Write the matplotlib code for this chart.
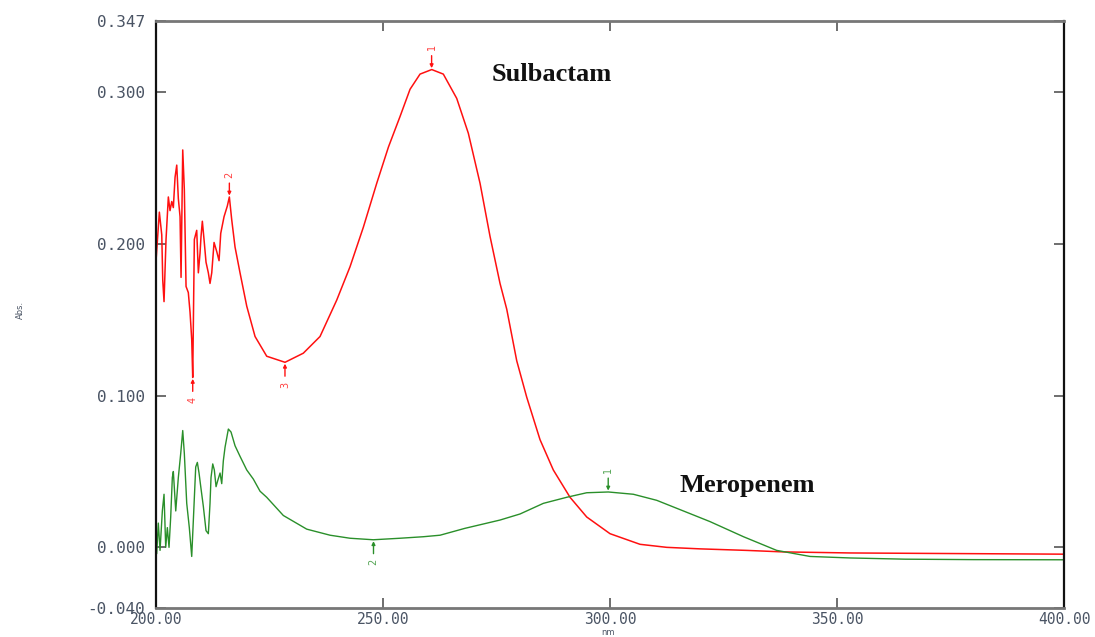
import matplotlib.pyplot as plt

# Sulbactam spectrum (red)
sul_nm = [200.0, 200.73, 201.26, 201.48, 201.76, 202.20, 202.71, 203.08, 203.46, 203.81,
          204.19, 204.56, 204.91, 205.29, 205.51, 205.88, 206.23, 206.61, 207.11, 207.49,
          207.86, 208.08, 208.44, 208.96, 209.32, 209.69, 209.91, 210.20, 210.57, 211.01,
          211.52, 211.89, 212.27, 212.78, 213.37, 213.88, 214.25, 214.98, 215.70, 216.15,
          216.67, 217.40, 218.50, 219.98, 221.81, 224.38, 228.41, 232.44, 236.12, 239.80,
          242.73, 245.66, 248.61, 251.2, 253.74, 255.95, 258.15, 260.73, 263.28, 266.23,
          268.79, 271.37, 273.57, 275.77, 277.25, 279.45, 281.65, 284.58, 287.51, 291.19,
          294.87, 300.0, 306.61, 312.49, 319.8, 330.0, 338.1, 352.9, 370.0, 400.0]
sul_abs = [0.189, 0.221, 0.206, 0.176, 0.162, 0.203, 0.231, 0.222, 0.228, 0.224,
           0.244, 0.252, 0.230, 0.218, 0.178, 0.262, 0.236, 0.172, 0.168, 0.155,
           0.137, 0.112, 0.203, 0.209, 0.181, 0.194, 0.205, 0.215, 0.203, 0.188,
           0.181, 0.174, 0.181, 0.201, 0.195, 0.189, 0.207, 0.218, 0.225, 0.231,
           0.216, 0.198, 0.181, 0.159, 0.139, 0.126, 0.122, 0.128, 0.139, 0.163,
           0.185, 0.211, 0.240, 0.264, 0.284, 0.302, 0.312, 0.315, 0.312, 0.296,
           0.273, 0.240, 0.205, 0.174, 0.157, 0.123, 0.099, 0.071, 0.051, 0.033,
           0.020, 0.009, 0.002, 0.000, -0.001, -0.002, -0.003, -0.0037, -0.004, -0.0045]

# Meropenem spectrum (green)
mero_nm = [200.15, 200.5, 200.88, 201.39, 201.76, 202.13, 202.49, 202.86, 203.23, 203.59,
           203.81, 204.34, 204.91, 205.44, 205.88, 206.23, 206.76, 207.33, 207.86, 208.22,
           208.74, 209.10, 209.47, 209.85, 210.42, 211.01, 211.52, 211.89, 212.11, 212.49,
           212.84, 213.22, 213.59, 214.10, 214.47, 214.82, 215.20, 215.93, 216.52, 217.40,
           218.50, 219.98, 221.43, 222.91, 224.38, 228.04, 233.19, 238.33, 242.73, 247.86,
           253.74, 258.88, 262.56, 268.0, 275.77, 280.18, 285.31, 290.46, 294.87, 299.63,
           305.13, 310.29, 316.15, 322.0, 329.4, 336.7, 344.05, 352.9, 365.0, 380.0, 400.0]
mero_abs = [-0.004, 0.016, -0.002, 0.024, 0.035, 0.000, 0.013, 0.000, 0.020, 0.046,
            0.050, 0.024, 0.046, 0.062, 0.077, 0.062, 0.029, 0.013, -0.006, 0.018,
            0.053, 0.056, 0.049, 0.040, 0.027, 0.011, 0.009, 0.029, 0.046, 0.055,
            0.051, 0.040, 0.044, 0.049, 0.042, 0.057, 0.066, 0.078, 0.076, 0.067,
            0.060, 0.051, 0.045, 0.037, 0.033, 0.021, 0.012, 0.008, 0.006, 0.005,
            0.006, 0.007, 0.008, 0.0125, 0.018, 0.022, 0.029, 0.033, 0.036, 0.0365,
            0.035, 0.031, 0.024, 0.017, 0.007, -0.002, -0.006, -0.007, -0.0078, -0.0081, -0.0082]

# peak picks: (nm, abs, label, side)
sul_peaks = [(260.7, 0.315, "1", "top"), (216.15, 0.231, "2", "top"),
             (228.4, 0.122, "3", "bottom"), (208.08, 0.112, "4", "bottom")]
mero_peaks = [(299.6, 0.0365, "1", "top"), (247.9, 0.005, "2", "bottom")]

x_ticks = [200, 250, 300, 350, 400]
y_ticks = [-0.040, 0.0, 0.1, 0.2, 0.3, 0.347]

RED = "#ff1010"
GREEN = "#2a8f2a"
TICK_COL = "#4a5464"


def mark_peaks(ax, peaks, color):
    for nm, a, lab, side in peaks:
        sign = 1 if side == "top" else -1
        ax.annotate("", xy=(nm, a), xytext=(0, sign * 10), textcoords="offset points",
                    arrowprops=dict(arrowstyle="-|>", color=color, lw=1.0,
                                    mutation_scale=5, shrinkA=0, shrinkB=1))
        ax.annotate(lab, xy=(nm, a), xytext=(0, sign * 16), textcoords="offset points",
                    ha="center", va="center", rotation=90, fontsize=7, color=color,
                    alpha=0.8)


fig = plt.figure(figsize=(10.95, 6.37), dpi=100)
ax = fig.add_axes([0.1425, 0.0455, 0.8292, 0.9215])

ax.plot(sul_nm, sul_abs, color=RED, lw=1.1)
ax.plot(mero_nm, mero_abs, color=GREEN, lw=1.0)
mark_peaks(ax, sul_peaks, RED)
mark_peaks(ax, mero_peaks, GREEN)

ax.text(287.2, 0.3116, "Sulbactam", family="Liberation Serif", weight="bold",
        fontsize=19, ha="center", va="center", color="#111111")
ax.text(330.2, 0.0409, "Meropenem", family="Liberation Serif", weight="bold",
        fontsize=19, ha="center", va="center", color="#111111")

ax.set_xlim(200, 400)
ax.set_ylim(-0.040, 0.347)
ax.set_xticks(x_ticks)
ax.set_xticklabels([f"{v:.2f}" for v in x_ticks])
ax.set_yticks(y_ticks)
ax.set_yticklabels([f"{v:.3f}" for v in y_ticks])
ax.tick_params(direction="in", length=7, width=1.2, color="#555555",
               top=True, right=True, labelsize=11.5, labelcolor=TICK_COL)
ax.tick_params(axis="x", pad=3, labelsize=10.5)
ax.tick_params(axis="y", pad=8)
for lab in ax.get_xticklabels() + ax.get_yticklabels():
    lab.set_family("DejaVu Sans Mono")

for side in ("left", "right"):
    ax.spines[side].set_color("#111111")
    ax.spines[side].set_linewidth(1.6)
for side in ("top", "bottom"):
    ax.spines[side].set_color("#777777")
    ax.spines[side].set_linewidth(2.0)

fig.text(0.019, 0.513, "Abs.", rotation=90, fontsize=6, ha="center", va="center",
         color=TICK_COL)
fig.text(0.555, 0.0, "nm", fontsize=6, ha="center", va="bottom", color=TICK_COL)

fig.savefig("out.png", dpi=100)
